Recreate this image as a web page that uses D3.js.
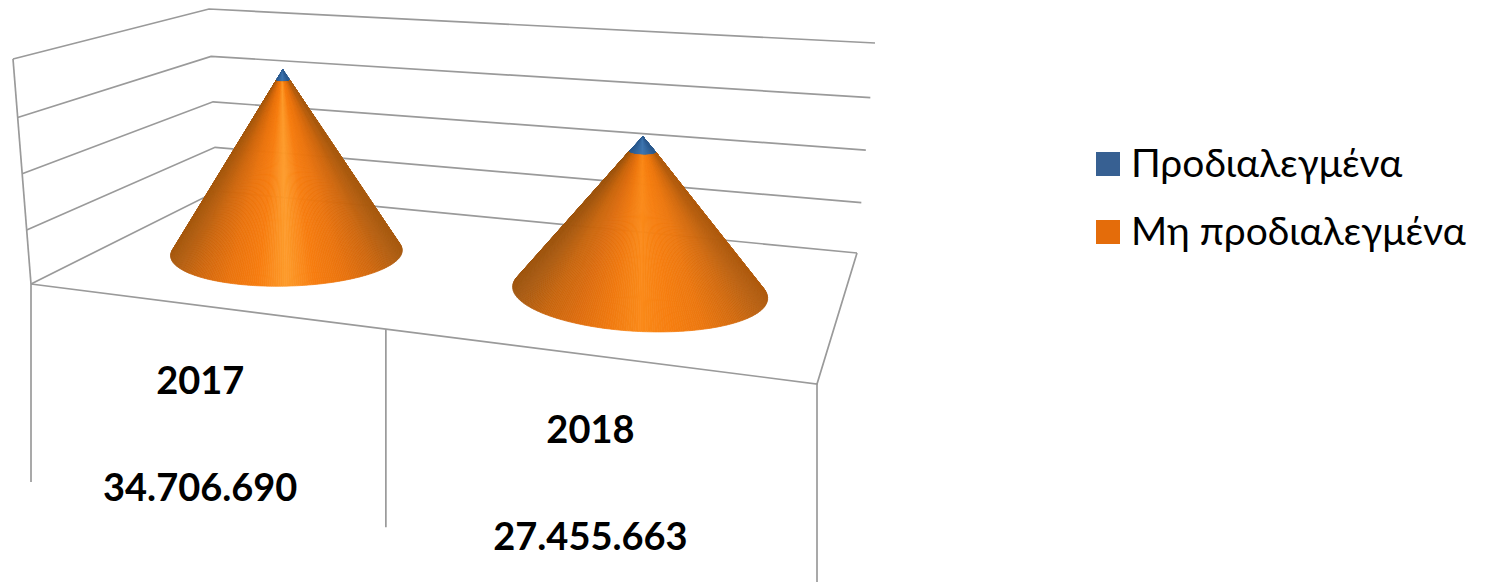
<!DOCTYPE html>
<html>
<head>
<meta charset="utf-8">
<title>Προδιαλεγμένα</title>
<script src="https://d3js.org/d3.v7.min.js"></script>
<style>
    html, body { margin: 0; background: #fff; }
    svg { display: block; }
    text { font-family: Lato, "Open Sans", sans-serif; fill: #000; }
    .wall { fill: none; stroke: #9a9a9a; stroke-width: 1.7px; }
    .value { font-size: 38px; font-weight: bold; text-anchor: middle; }
    .legend-label { font-size: 39px; }
</style>
</head>
<body>
<div id="chart"></div>
<script>
// data
const years = ["2017", "2018"];
const totalLabels = ["34.706.690", "27.455.663"];
const preselected = [1800000, 2600000];
const notPreselected = [32906690, 24855663];
const seriesNames = ["Προδιαλεγμένα", "Μη προδιαλεγμένα"];
const yTicks = [0, 10000000, 20000000, 30000000, 40000000];

// 3d box corners on screen
const floorQuad = [[31, 284], [817, 384], [857, 253], [217, 191]];
const topQuad = [[13, 59], [848, 122], [875, 43], [209, 9]];

const width = 1485, height = 582;
const svg = d3.select("#chart").append("svg").attr("width", width).attr("height", height);

// unit square -> quad
function quadMap(q) {
    const [p0, p1, p2, p3] = q;
    const dx1 = p1[0] - p2[0], dx2 = p3[0] - p2[0], sx = p0[0] - p1[0] + p2[0] - p3[0];
    const dy1 = p1[1] - p2[1], dy2 = p3[1] - p2[1], sy = p0[1] - p1[1] + p2[1] - p3[1];
    const det = dx1 * dy2 - dx2 * dy1;
    const g = (sx * dy2 - dx2 * sy) / det, h = (dx1 * sy - sx * dy1) / det;
    const a = p1[0] - p0[0] + g * p1[0], b = p3[0] - p0[0] + h * p3[0];
    const d = p1[1] - p0[1] + g * p1[1], e = p3[1] - p0[1] + h * p3[1];
    return (u, v) => {
        const w = g * u + h * v + 1;
        return [(a * u + b * v + p0[0]) / w, (d * u + e * v + p0[1]) / w];
    };
}
const floorMap = quadMap(floorQuad), topMap = quadMap(topQuad);

const xBand = d3.scaleBand().domain(years).range([0, 1]);
// the gaps are a little uneven on screen because of the perspective
const yScale = d3.scaleLinear().domain(yTicks).range([0, 0.24, 0.49, 0.74, 1]);

function project(u, v, h) {
    const a = floorMap(u, v), b = topMap(u, v);
    return [a[0] + (b[0] - a[0]) * h, a[1] + (b[1] - a[1]) * h];
}

const line = d3.line();

// walls
const wall = svg.append("g");
yTicks.forEach(t => {
    const h = yScale(t);
    wall.append("path").attr("class", "wall")
        .attr("d", line([project(0, 0, h), project(0, 1, h), project(1, 1, h)]));
});
wall.append("path").attr("class", "wall")
    .attr("d", line([project(0, 0, 0), project(0, 0, 1)]));
// floor front and right edge
wall.append("path").attr("class", "wall")
    .attr("d", line([project(0, 0, 0), project(1, 0, 0), project(1, 1, 0)]));

// table below the floor
const tableDepth = 198;
[0].concat(years.map((y, i) => (i + 1) / years.length)).forEach(u => {
    const p = project(u, 0, 0);
    wall.append("line").attr("class", "wall")
        .attr("x1", p[0]).attr("y1", p[1]).attr("x2", p[0]).attr("y2", p[1] + tableDepth);
});

// cones, cut into thin facets so the shading follows the surface
const coneRu = 0.162, coneRv = 0.31, coneCv = 0.49, facets = 360;
const coneLean = [9, 5];
const orangeStops = [
    ["#a85a10", "#d0680f", "#ea740f", "#f77d10", "#fd9c2c", "#f77d10", "#ea740f", "#d0680f", "#a85a10"],
    ["#a05610", "#c8660f", "#de6e10", "#f07a10", "#fa8a1a", "#f67e10", "#ec7810", "#d46c10", "#b05c10"]
];
const blueShade = d3.scaleLinear().domain([0, 0.5, 1]).range(["#2c5a8e", "#3f76b0", "#2c5a8e"]);

years.forEach((year, i) => {
    const cu = xBand(year) + xBand.bandwidth() / 2;
    const total = preselected[i] + notPreselected[i];
    const hTop = yScale(total), hSplit = yScale(notPreselected[i]);
    const ring = (h, th) => {
        const f = 1 - h / hTop;
        const p = project(cu + coneRu * f * Math.cos(th), coneCv + coneRv * f * Math.sin(th), h);
        return [p[0] + coneLean[i] * h, p[1]];
    };
    const baseXs = d3.range(facets).map(k => ring(0, k / facets * 2 * Math.PI)[0]);
    const tScale = d3.scaleLinear().domain(d3.extent(baseXs)).range([0, 1]);
    const orange = d3.scaleLinear()
        .domain(d3.range(9).map(k => k / 8))
        .range(orangeStops[i]);

    // only the facets that face the viewer, the back ones bleed through the seams
    const apex = ring(hTop, 0);
    const cells = d3.range(facets).map(k => {
        const a = k / facets * 2 * Math.PI, b = (k + 1) / facets * 2 * Math.PI;
        const pa = ring(0, a), pb = ring(0, b);
        const cross = (pb[0] - pa[0]) * (apex[1] - pa[1]) - (pb[1] - pa[1]) * (apex[0] - pa[0]);
        return { a, b, cross, t: tScale(ring(0, (a + b) / 2)[0]) };
    }).filter(c => c.cross < 0);

    const g = svg.append("g");
    g.selectAll("path.low").data(cells).enter().append("path").attr("class", "low")
        .attr("d", c => line([ring(0, c.a), ring(0, c.b), ring(hSplit, c.b), ring(hSplit, c.a)]) + "Z")
        .attr("fill", c => orange(c.t)).attr("stroke", c => orange(c.t)).attr("stroke-width", 0.7);
    g.selectAll("path.high").data(cells).enter().append("path").attr("class", "high")
        .attr("d", c => line([ring(hSplit, c.a), ring(hSplit, c.b), ring(hTop, c.b)]) + "Z")
        .attr("fill", c => blueShade(c.t)).attr("stroke", c => blueShade(c.t)).attr("stroke-width", 0.5);
});

// labels under the floor
const labelOffsets = [[88, 195], [88, 195]];
years.forEach((year, i) => {
    const p = project(xBand(year) + xBand.bandwidth() / 2, 0, 0);
    const o = labelOffsets[i];
    svg.append("text").attr("class", "value").attr("x", p[0]).attr("y", p[1] + o[0]).text(year);
    svg.append("text").attr("class", "value").attr("x", p[0]).attr("y", p[1] + o[1]).text(totalLabels[i]);
});

// legend
const legendColors = ["#376092", "#e46c0a"];
const legendY = d3.scalePoint().domain(seriesNames).range([164, 232]);
seriesNames.forEach((name, i) => {
    svg.append("rect").attr("x", 1096).attr("y", legendY(name) - 12)
        .attr("width", 24).attr("height", 24).attr("fill", legendColors[i]);
    svg.append("text").attr("class", "legend-label").attr("x", 1131).attr("y", legendY(name) + 13).text(name);
});
</script>
</body>
</html>
